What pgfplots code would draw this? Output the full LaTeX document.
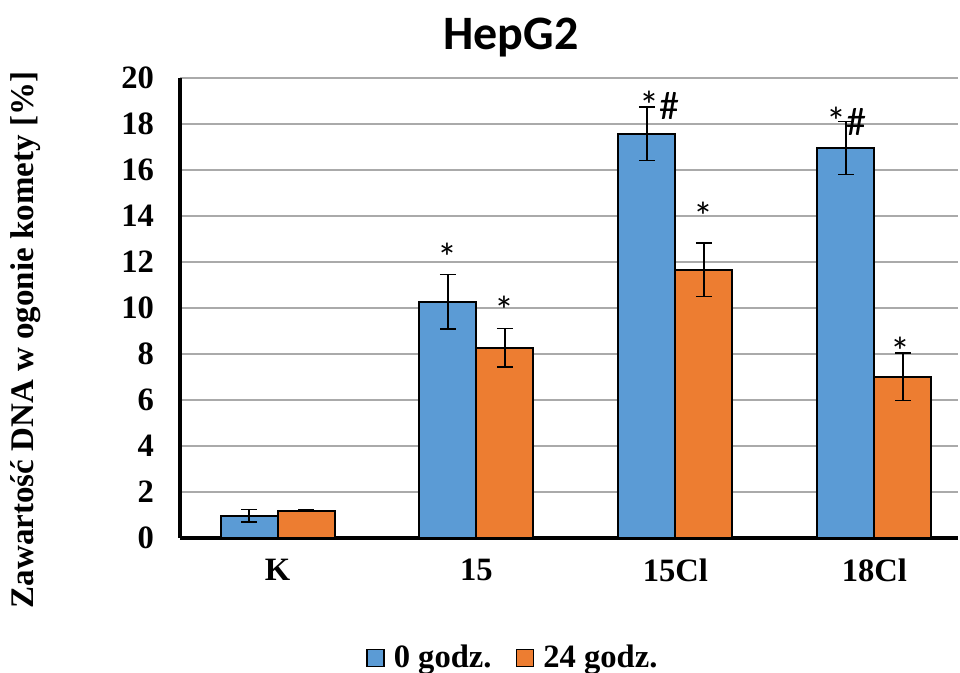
\documentclass[border=0pt]{standalone}
\usepackage{pgfplots}
\pgfplotsset{compat=1.18}
\usepackage{fontspec}
\setmainfont{Liberation Serif}
\newfontfamily\carlito{Carlito}
\definecolor{cblue}{RGB}{91,155,213}
\definecolor{corange}{RGB}{237,125,49}
\definecolor{cgrid}{RGB}{170,170,170}
\begin{document}
\begin{tikzpicture}
\useasboundingbox (0,0) rectangle (480pt,336.5pt);
\begin{axis}[
  at={(90pt,67.5pt)}, anchor=south west,
  scale only axis, width=389pt, height=230pt,
  xmin=-0.49, xmax=3.42, ymin=0, ymax=20,
  ybar=0pt, bar width=28.5pt,
  axis x line*=bottom, axis y line*=left,
  axis line style={line width=1.6pt,-},
  xtick={0,1,2,3}, xticklabels={K,15,15Cl,18Cl},
  ytick={0,2,...,20},
  major tick length=0pt,
  ymajorgrids, grid style={cgrid, line width=0.8pt},
  /pgf/number format/assume math mode=true,
  tick label style={font=\bfseries\fontsize{16.3}{19}\selectfont},
  xticklabel style={yshift=-7pt},
  yticklabel style={xshift=-9.5pt},
  legend columns=2,
  legend style={at={(0.429,-0.261)}, anchor=center, draw=none, fill=none,
    font=\bfseries\fontsize{16.3}{19}\selectfont,
    /tikz/every even column/.append style={column sep=10pt},
    nodes={inner sep=2pt}},
  legend image code/.code={\draw[#1, line width=0.8pt] (0pt,-4.25pt) rectangle (8.5pt,4.25pt); \path (11pt,0pt);},
  error bars/error bar style={line width=0.7pt, black},
  error bars/error mark options={rotate=90, mark size=4pt, line width=0.7pt, black},
]
\addplot[fill=cblue, draw=black, line width=1pt,
  error bars/.cd, y dir=both, y explicit]
  table[x=x, y=y, y error=e] {
x y e
0 0.97 0.27
1 10.27 1.19
2 17.57 1.17
3 16.96 1.16
};
\addlegendentry{0 godz.}
\addplot[fill=corange, draw=black, line width=1pt,
  error bars/.cd, y dir=both, y explicit]
  table[x=x, y=y, y error=e] {
x y e
0 1.19 0.02
1 8.27 0.83
2 11.67 1.16
3 7.01 1.03
};
\addlegendentry{24 godz.}
\begin{scope}[every node/.style={font=\carlito\fontsize{20}{24}\selectfont, inner sep=0pt}]
\node at (axis cs:0.854,12.2) {*};
\node at (axis cs:1.141,9.9) {*};
\node at (axis cs:1.920,18.8) {*\#};
\node at (axis cs:2.141,14.0) {*};
\node at (axis cs:2.859,18.1) {*\#};
\node at (axis cs:3.131,8.1) {*};
\end{scope}
\end{axis}
\node[font=\carlito\bfseries\fontsize{24}{28}\selectfont] at (255.5pt,317.5pt) {HepG2};
\node[rotate=90, font=\bfseries\fontsize{16.5}{19}\selectfont] at (13pt,166.5pt) {Zawartość DNA w ogonie komety [\%]};
\end{tikzpicture}
\end{document}
